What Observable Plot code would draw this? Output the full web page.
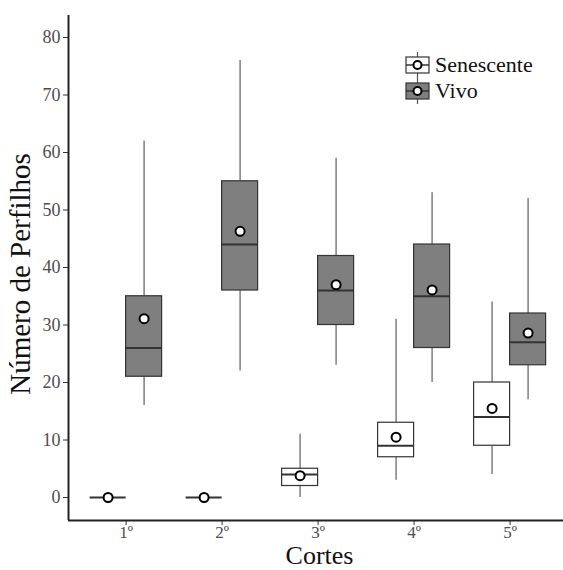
<!DOCTYPE html>
<html><head><meta charset="utf-8">
<script src="https://cdn.jsdelivr.net/npm/d3@7"></script>
<script src="https://cdn.jsdelivr.net/npm/@observablehq/plot@0.6"></script>
<style>body{margin:0;background:#fff}</style>
</head><body><div id="chart"></div>
<script>
const cortes = ["1º","2º","3º","4º","5º"];
const series = ["Senescente","Vivo"];
const senMin  = [0,0,0,3,4];
const senQ1   = [0,0,2,7,9];
const senMed  = [0,0,4,9,14];
const senQ3   = [0,0,5,13,20];
const senMax  = [0,0,11,31,34];
const senMean = [0,0,3.8,10.5,15.5];
const vivMin  = [16,22,23,20,17];
const vivQ1   = [21,36,30,26,23];
const vivMed  = [26,44,36,35,27];
const vivQ3   = [35,55,42,44,32];
const vivMax  = [62,76,59,53,52];
const vivMean = [31.1,46.3,37,36.1,28.6];
const yTicks = [0,10,20,30,40,50,60,70,80];

const W = 563, H = 570;
const half = 0.1875;      // half dodge width (in category units)
const serif = "Liberation Serif, Times New Roman, serif";
const fillOf = {Senescente: "#ffffff", Vivo: "#7f7f7f"};

const rows = [];
cortes.forEach((c, i) => {
  rows.push({corte: c, serie: series[0], pos: i + 1 - half, min: senMin[i], q1: senQ1[i], med: senMed[i], q3: senQ3[i], max: senMax[i], mean: senMean[i]});
  rows.push({corte: c, serie: series[1], pos: i + 1 + half, min: vivMin[i], q1: vivQ1[i], med: vivMed[i], q3: vivQ3[i], max: vivMax[i], mean: vivMean[i]});
});

const xDomain = [0.4, 0.4 + 495 / 96];
const yDomain = [-4, 83.83];

const chart = Plot.plot({
  width: W, height: H,
  marginLeft: 68, marginRight: 0, marginTop: 15, marginBottom: 50,
  style: {fontFamily: serif, background: "#fff", color: "#333"},
  x: {type: "linear", domain: xDomain, axis: null},
  y: {domain: yDomain, axis: null},
  marks: [
    Plot.ruleX(rows, {x: "pos", y1: "min", y2: "q1", stroke: "#7f7f7f", strokeWidth: 1.5}),
    Plot.ruleX(rows, {x: "pos", y1: "q3", y2: "max", stroke: "#7f7f7f", strokeWidth: 1.5}),
    Plot.rect(rows, {x1: d => d.pos - half, x2: d => d.pos + half, y1: "q1", y2: "q3",
      fill: d => fillOf[d.serie], stroke: "#333", strokeWidth: 1.2}),
    Plot.ruleY(rows, {y: "med", x1: d => d.pos - half, x2: d => d.pos + half, stroke: "#333", strokeWidth: 2}),
    Plot.dot(rows, {x: "pos", y: "mean", r: 4.5, fill: "#fff", stroke: "#000", strokeWidth: 2}),
    Plot.axisY({ticks: yTicks, tickSize: 5, tickPadding: 3, label: null, fontSize: 18, color: "#333"}),
    Plot.axisX({ticks: [1,2,3,4,5], tickFormat: d => cortes[d - 1], tickSize: 5, tickPadding: 0, label: null, fontSize: 17, color: "#333"}),
    Plot.ruleX([xDomain[0]], {stroke: "#222", strokeWidth: 2}),
    Plot.ruleY([yDomain[0]], {stroke: "#222", strokeWidth: 2})
  ]
});
document.getElementById("chart").appendChild(chart);

const svg = d3.select(chart);
svg.selectAll('g[aria-label="y-axis tick label"] text, g[aria-label="x-axis tick label"] text')
  .attr("fill", "#4d4d4d").attr("font-family", serif);

// axis titles
svg.append("text").attr("transform", "translate(30,274) rotate(-90)")
  .attr("text-anchor", "middle").attr("font-family", serif).attr("font-size", 29).attr("fill", "#111")
  .text("Número de Perfilhos");
svg.append("text").attr("x", 319.5).attr("y", 564)
  .attr("text-anchor", "middle").attr("font-family", serif).attr("font-size", 26).attr("fill", "#111")
  .text("Cortes");

// legend
const lg = svg.append("g").attr("text-anchor", "start");
series.forEach((s, k) => {
  const y0 = 57 + k * 26;
  const g = lg.append("g");
  g.append("line").attr("x1", 417.5).attr("x2", 417.5).attr("y1", y0 - 5).attr("y2", y0 + 21).attr("stroke", "#555").attr("stroke-width", 1.2);
  g.append("rect").attr("x", 406).attr("y", y0).attr("width", 23).attr("height", 16)
    .attr("fill", fillOf[s]).attr("stroke", "#333").attr("stroke-width", 1.2);
  g.append("line").attr("x1", 406).attr("x2", 429).attr("y1", y0 + 8).attr("y2", y0 + 8).attr("stroke", "#333").attr("stroke-width", 1.5);
  g.append("circle").attr("cx", 417.5).attr("cy", y0 + 8).attr("r", 4).attr("fill", "#fff").attr("stroke", "#000").attr("stroke-width", 2);
  g.append("text").attr("x", 435).attr("y", y0 + 15).attr("text-anchor", "start")
    .attr("font-family", serif).attr("font-size", 22).attr("fill", "#111").text(s);
});
</script>
</body></html>
